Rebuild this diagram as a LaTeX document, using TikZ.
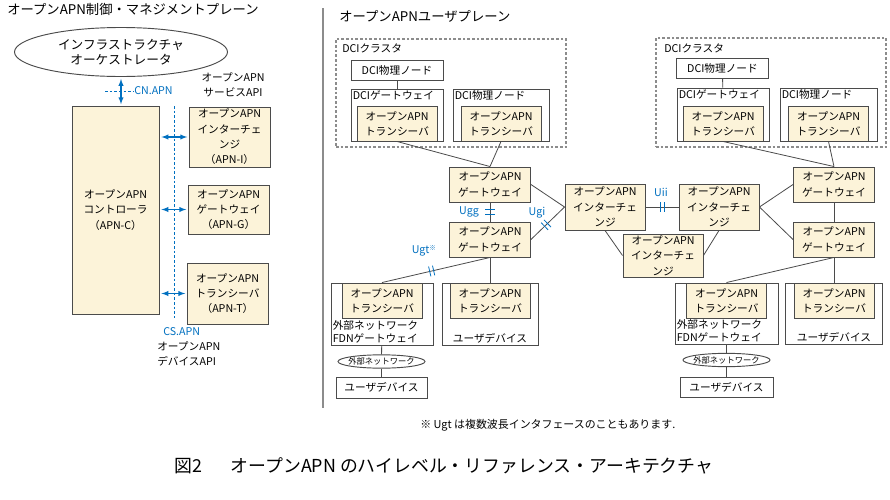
\documentclass[tikz,border=0pt]{standalone}
\usepackage{fontspec}
\setmainfont{Noto Sans CJK JP}
\usepackage{tikz}
\usetikzlibrary{arrows, positioning, shapes.geometric}

\definecolor{apnblue}{RGB}{0,112,192}
\definecolor{cream}{RGB}{252,243,217}
\definecolor{boxgray}{RGB}{75,75,75}
\definecolor{rulegray}{RGB}{140,140,140}

\newcommand{\boxfont}{\fontsize{8}{11.5}\selectfont}
\tikzset{ifmark/.pic={\draw[apnblue, line width=0.6pt] (-2,-5) -- (-2,5) (2,-5) -- (2,5);}}

\begin{document}
\begin{tikzpicture}[x=0.75pt, y=-0.75pt]
\tikzstyle{apnbox}=[draw=boxgray, fill=cream, line width=0.7pt, align=center, inner sep=1pt, font=\boxfont]
\tikzstyle{plainbox}=[draw=boxgray, fill=white, line width=0.7pt, align=center, inner sep=1pt, font=\boxfont]
\tikzstyle{gwbox}=[apnbox, minimum width=60.75pt, minimum height=26.25pt]
\tikzstyle{icbox}=[apnbox, minimum width=60pt, minimum height=34.5pt]
\tikzstyle{trxbox}=[apnbox, minimum width=60pt, minimum height=26.25pt]
\tikzstyle{cluster}=[draw=rulegray, line width=0.8pt, dash pattern=on 2pt off 1.5pt]
\tikzstyle{textnode}=[inner sep=0pt, font=\boxfont]
\tikzstyle{titletext}=[inner sep=0pt, anchor=west, font=\fontsize{10}{12}\selectfont]
\tikzstyle{iflabel}=[inner sep=0pt, text=apnblue, font=\boxfont]
\tikzstyle{extnet}=[ellipse, draw=boxgray, fill=white, line width=0.7pt, inner xsep=-2pt, inner ysep=0pt, minimum width=65.25pt, minimum height=10pt, font=\fontsize{6.2}{7}\selectfont]
\tikzstyle{apiarrow}=[latex-latex, draw=apnblue, line width=0.8pt, shorten <=1.5pt, shorten >=1pt]
\tikzstyle{apidash}=[draw=apnblue, line width=0.6pt, dash pattern=on 2pt off 1.5pt]
\tikzstyle{link}=[draw=boxgray, line width=0.6pt]
    \path[use as bounding box, fill=white] (0,0) rectangle (890,500);

    % control and management plane
    \node (ctitle) [titletext] at (7,9) {オープンAPN制御・マネジメントプレーン};
    \node (orch) [ellipse, draw=boxgray, line width=0.7pt, minimum width=159.75pt, minimum height=36.75pt, inner sep=0pt, align=center, font=\fontsize{9.5}{11.5}\selectfont] at (121,52) {インフラストラクチャ\\オーケストレータ};
    \node (ctrl) [apnbox, minimum width=65.25pt, minimum height=156pt] at (115.5,210) {オープンAPN\\コントローラ\\（APN-C）};
    \node (apnI) [apnbox, minimum width=60.75pt, minimum height=45pt] at (229.5,137) {オープンAPN\\インターチェ\\ンジ\\（APN-I）};
    \node (apnG) [apnbox, minimum width=60.75pt, minimum height=36.75pt] at (228.5,209.5) {オープンAPN\\ゲートウェイ\\（APN-G）};
    \node (apnT) [apnbox, minimum width=60.75pt, minimum height=45.75pt] at (227.5,293.5) {オープンAPN\\トランシーバ\\（APN-T）};

    \draw[apiarrow] (orch.south) -- (orch.south |- ctrl.north);
    \draw[apiarrow] (ctrl.east |- apnI.west) -- (apnI.west);
    \draw[apiarrow] (ctrl.east |- apnG.west) -- (apnG.west);
    \draw[apiarrow] (ctrl.east |- apnT.west) -- (apnT.west);

    \coordinate (cnstart) at (105,91);
    \node (cnlabel) [iflabel, anchor=west] at (134,91) {CN.APN};
    \draw[apidash] (cnstart) -- (cnlabel.west);
    \node (svcapi) [textnode, align=center] at (233,85) {オープンAPN\\サービスAPI};
    \coordinate (apitop) at (174,106);
    \coordinate (apibot) at (174,318);
    \draw[apidash] (apitop) -- (apibot);
    \node (devapi) [textnode, anchor=north west, align=left] at (157,327) {\hspace{4.5pt}\textcolor{apnblue}{CS.APN}\\オープンAPN\\デバイスAPI};

    \coordinate (divtop) at (323,8);
    \coordinate (divbot) at (323,408);
    \draw[rulegray, line width=0.9pt] (divtop) -- (divbot);

    % user plane
    \node (utitle) [titletext] at (339,16) {オープンAPNユーザプレーン};

    \node (clusterL) [cluster, minimum width=172.5pt, minimum height=81pt] at (451,93) {};
    \node (clusterLname) [textnode, anchor=west] at (342,48) {DCIクラスタ};
    \node (physLtop) [plainbox, minimum width=69pt, minimum height=15pt] at (397,70) {DCI物理ノード};
    \node (gwLouter) [plainbox, minimum width=69pt, minimum height=39pt] at (397,115) {};
    \node (gwLname) [textnode, anchor=north west, inner sep=1.5pt] at (gwLouter.north west) {DCIゲートウェイ};
    \node (trxL) [trxbox, above=0pt of gwLouter.south] {オープンAPN\\トランシーバ};
    \node (physLouter) [plainbox, minimum width=72pt, minimum height=39pt] at (501,115) {};
    \node (physLname) [textnode, anchor=north west, inner sep=1.5pt] at (physLouter.north west) {DCI物理ノード};
    \node (trxL2) [trxbox, above=0pt of physLouter.south] {オープンAPN\\トランシーバ};

    \node (clusterR) [cluster, minimum width=172.5pt, minimum height=81.75pt] at (771,92.5) {};
    \node (clusterRname) [textnode, anchor=west] at (664,48) {DCIクラスタ};
    \node (physRtop) [plainbox, minimum width=69pt, minimum height=15pt] at (722.5,68.5) {DCI物理ノード};
    \node (gwRouter) [plainbox, minimum width=69pt, minimum height=39.75pt] at (723,114.5) {};
    \node (gwRname) [textnode, anchor=north west, inner sep=1.5pt] at (gwRouter.north west) {DCIゲートウェイ};
    \node (trxR) [trxbox, above=0pt of gwRouter.south] {オープンAPN\\トランシーバ};
    \node (physRouter) [plainbox, minimum width=72.75pt, minimum height=39.75pt] at (828.5,114.5) {};
    \node (physRname) [textnode, anchor=north west, inner sep=1.5pt] at (physRouter.north west) {DCI物理ノード};
    \node (trxR2) [trxbox, above=0pt of physRouter.south] {オープンAPN\\トランシーバ};

    \node (gwL1) [gwbox] at (490,184.5) {オープンAPN\\ゲートウェイ};
    \node (gwL2) [gwbox] at (490,239.5) {オープンAPN\\ゲートウェイ};
    \node (icL) [icbox] at (605,207) {オープンAPN\\インターチェ\\ンジ};
    \node (icR) [icbox] at (719,207) {オープンAPN\\インターチェ\\ンジ};
    \node (icB) [icbox, minimum height=32.25pt] at (663,255.5) {オープンAPN\\インターチェ\\ンジ};
    \node (gwR1) [gwbox] at (834,184.5) {オープンAPN\\ゲートウェイ};
    \node (gwR2) [gwbox] at (834,239.5) {オープンAPN\\ゲートウェイ};

    \node (fdnL) [plainbox, minimum width=76.5pt, minimum height=46.5pt] at (382,314) {};
    \node (trxFL) [trxbox, below=0pt of fdnL.north] {オープンAPN\\トランシーバ};
    \node (fdnLname) [textnode, anchor=south west, align=left, inner sep=1.5pt, font=\fontsize{8}{9.75}\selectfont] at (fdnL.south west) {外部ネットワーク\\FDNゲートウェイ};
    \node (userL) [plainbox, minimum width=72pt, minimum height=46.5pt] at (490,314) {};
    \node (trxUL) [trxbox, below=0pt of userL.north] {オープンAPN\\トランシーバ};
    \node (userLname) [textnode, anchor=south, inner sep=1.5pt] at (userL.south) {ユーザデバイス};
    \node (extL) [extnet] at (381.5,361.5) {外部ネットワーク};
    \node (udevL) [plainbox, minimum width=68.25pt, minimum height=15.75pt] at (381.5,387.5) {ユーザデバイス};

    \node (fdnR) [plainbox, minimum width=77.25pt, minimum height=45.75pt] at (726.5,313.5) {};
    \node (trxFR) [trxbox, below=0pt of fdnR.north] {オープンAPN\\トランシーバ};
    \node (fdnRname) [textnode, anchor=south west, align=left, inner sep=1.5pt, font=\fontsize{8}{9.75}\selectfont] at (fdnR.south west) {外部ネットワーク\\FDNゲートウェイ};
    \node (userR) [plainbox, minimum width=72.75pt, minimum height=45.75pt] at (834,313.5) {};
    \node (trxUR) [trxbox, below=0pt of userR.north] {オープンAPN\\トランシーバ};
    \node (userRname) [textnode, anchor=south, inner sep=1.5pt] at (userR.south) {ユーザデバイス};
    \node (extR) [extnet] at (726.5,360) {外部ネットワーク};
    \node (udevR) [plainbox, minimum width=69.75pt, minimum height=15pt] at (726.5,387) {ユーザデバイス};

    \draw[link] (physLtop) -- (gwLouter);
    \draw[link] (physRtop) -- (gwRouter);
    \draw[link] (trxL.south) -- (gwL1.north);
    \draw[link] (trxL2.south) -- (gwL1.north);
    \draw[link] (trxR.south) -- (gwR1.north);
    \draw[link] (trxR2.south) -- (gwR1.north);
    \draw[link] (gwL1) -- (gwL2) coordinate[pos=0.5] (uggmid);
    \draw[apnblue, line width=0.6pt] ([shift={(-5,-2.2)}]uggmid) -- +(10,0) ([shift={(-5,2.2)}]uggmid) -- +(10,0);
    \draw[link] (gwL1.east) -- (icL.west);
    \draw[link] (gwL2.east) -- (icL.west) pic[pos=0.45, sloped] {ifmark};
    \draw[link] (icL.east) -- (icR.west) pic[pos=0.5, sloped] {ifmark};
    \draw[link] (icL.south) -- (icB.west);
    \draw[link] (icR.south) -- (icB.east);
    \draw[link] (icR.east) -- (gwR1.west);
    \draw[link] (icR.east) -- (gwR2.west);
    \draw[link] (gwR1) -- (gwR2);
    \draw[link] (gwL2.south) -- (trxFL.north) pic[pos=0.54, sloped] {ifmark};
    \draw[link] (gwL2.south) -- (trxUL.north);
    \draw[link] (gwR2.south) -- (trxFR.north);
    \draw[link] (gwR2.south) -- (trxUR.north);
    \draw[link] (fdnL) -- (extL);
    \draw[link] (extL) -- (udevL);
    \draw[link] (fdnR) -- (extR);
    \draw[link] (extR) -- (udevR);

    \node (ugglabel) [iflabel] at (469,212) {Ugg};
    \node (ugilabel) [iflabel] at (537,213) {Ugi};
    \node (uiilabel) [iflabel] at (661,192) {Uii};
    \node (ugtlabel) [iflabel] at (424,251) {Ugt\raisebox{2.5pt}{\fontsize{5}{5}\selectfont ※}};

    \node (note) [anchor=west, inner sep=0pt, font=\fontsize{8.2}{10}\selectfont] at (420,425) {※ Ugt は複数波長インタフェースのこともあります.};
    \node (caption) [anchor=west, inner sep=0pt, font=\fontsize{13.4}{15}\selectfont] at (174,466) {図2\hspace{1.6em}オープンAPN のハイレベル・リファレンス・アーキテクチャ};
\end{tikzpicture}
\end{document}
